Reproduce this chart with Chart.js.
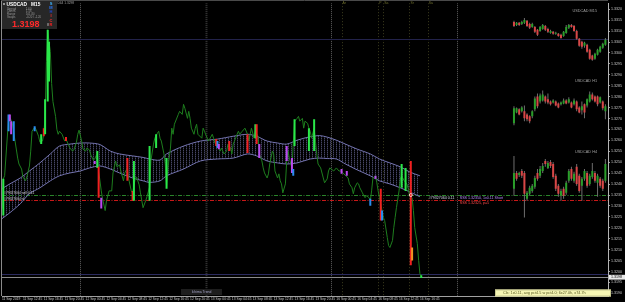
<!DOCTYPE html>
<html><head><meta charset="utf-8">
<script src="https://cdn.jsdelivr.net/npm/chart.js@4/dist/chart.umd.min.js"></script>
<style>html,body{margin:0;padding:0;background:#000;overflow:hidden}canvas{display:block}</style>
</head><body>
<canvas id="c" width="625" height="302"></canvas>
<script>
// ---------- DATA ----------
const xTickBars = [0,16,32,48,64,80,96,112,128,144,160,176,192,208,224,240,256,272,288,304,320];
const xLabels = ['11 Sep 2019','11 Sep 12:45','11 Sep 16:45','11 Sep 20:45','12 Sep 00:45','12 Sep 04:45','12 Sep 08:45','12 Sep 12:45','12 Sep 16:45','12 Sep 20:45','13 Sep 00:45','13 Sep 04:45','13 Sep 08:45','13 Sep 12:45','13 Sep 16:45','13 Sep 20:45','16 Sep 00:45','16 Sep 04:45','16 Sep 08:45','16 Sep 12:45','16 Sep 16:45'];
const yTicks = [1.3320,1.3315,1.3310,1.3305,1.3300,1.3295,1.3290,1.3285,1.3280,1.3275,1.3270,1.3265,1.3260,1.3255,1.3250,1.3245,1.3240,1.3235,1.3230,1.3225,1.3220,1.3215,1.3210,1.3205,1.3200,1.3195,1.3190];

const priceBars = [0,1,2,5,6,8,10,12,13,15,16,18,19,21,22,23,25,26,28,29,31,32,33,34,35,36,37,38,39,41,42,43,44,46,48,49,51,52,54,55,57,58,59,61,62,64,65,67,68,70,71,73,74,76,77,79,80,82,84,85,87,88,90,91,93,94,96,97,99,100,102,103,105,106,108,110,111,113,114,116,117,119,120,121,122,124,125,126,127,129,130,131,132,135,136,138,139,140,142,143,144,145,147,148,149,150,153,154,155,158,159,161,162,163,165,167,168,170,172,173,175,176,177,178,180,181,182,184,186,188,189,190,191,193,194,196,197,199,200,201,203,204,205,207,208,209,211,212,213,214,215,217,218,219,220,222,223,224,226,227,228,230,231,232,234,235,236,237,239,240,241,242,244,246,247,249,250,251,254,256,258,259,261,265,266,268,269,270,272,273,274,276,277,278,279,281,282,283,284,286,287,288,289,291,292,293,295,296,297,299,300,301,302,304,305,306,308,310,311,312,314,315,316,318,319,320,321];
const priceClose = [1.32288,1.32424,1.32438,1.32697,1.32706,1.32678,1.32597,1.32519,1.32492,1.32469,1.32433,1.32415,1.32433,1.32483,1.32551,1.32642,1.32660,1.32651,1.32619,1.32592,1.32597,1.32628,1.32710,1.32960,1.33106,1.33051,1.33006,1.32860,1.32778,1.32710,1.32651,1.32628,1.32642,1.32628,1.32597,1.32606,1.32578,1.32565,1.32551,1.32556,1.32592,1.32628,1.32647,1.32597,1.32560,1.32551,1.32565,1.32556,1.32533,1.32510,1.32515,1.32542,1.32460,1.32369,1.32333,1.32279,1.32324,1.32369,1.32369,1.32451,1.32506,1.32479,1.32488,1.32460,1.32415,1.32451,1.32474,1.32424,1.32369,1.32360,1.32424,1.32433,1.32397,1.32360,1.32292,1.32324,1.32342,1.32388,1.32506,1.32583,1.32610,1.32633,1.32642,1.32610,1.32597,1.32538,1.32492,1.32388,1.32474,1.32565,1.32656,1.32628,1.32674,1.32719,1.32733,1.32719,1.32765,1.32747,1.32701,1.32733,1.32701,1.32656,1.32628,1.32656,1.32674,1.32628,1.32610,1.32656,1.32642,1.32597,1.32606,1.32628,1.32610,1.32588,1.32574,1.32551,1.32565,1.32538,1.32551,1.32583,1.32565,1.32538,1.32583,1.32597,1.32628,1.32642,1.32628,1.32642,1.32656,1.32628,1.32597,1.32628,1.32656,1.32610,1.32642,1.32619,1.32538,1.32506,1.32474,1.32451,1.32428,1.32447,1.32492,1.32551,1.32538,1.32460,1.32428,1.32447,1.32415,1.32401,1.32360,1.32401,1.32506,1.32551,1.32519,1.32474,1.32583,1.32688,1.32701,1.32710,1.32688,1.32701,1.32656,1.32688,1.32678,1.32656,1.32642,1.32610,1.32656,1.32597,1.32538,1.32492,1.32474,1.32428,1.32406,1.32424,1.32460,1.32474,1.32460,1.32474,1.32460,1.32460,1.32451,1.32428,1.32401,1.32383,1.32356,1.32383,1.32406,1.32401,1.32383,1.32360,1.32347,1.32338,1.32347,1.32338,1.32324,1.32369,1.32428,1.32438,1.32406,1.32369,1.32338,1.32279,1.32247,1.32233,1.32156,1.32119,1.32110,1.32142,1.32201,1.32247,1.32292,1.32369,1.32424,1.32438,1.32415,1.32401,1.32379,1.32347,1.32338,1.32279,1.32201,1.32128,1.32051,1.31990,1.31980];

const bandBars = [0,6,14,21,29,37,44,52,60,67,75,83,90,100,108,113,121,126,139,152,165,177,188,195,203,211,218,226,236,243,249,256,263,272,282,289,297,305,312,320];
const bandUpper = [1.32379,1.32401,1.32428,1.32460,1.32497,1.32538,1.32574,1.32583,1.32588,1.32588,1.32581,1.32551,1.32538,1.32529,1.32522,1.32515,1.32510,1.32538,1.32574,1.32597,1.32606,1.32619,1.32628,1.32619,1.32597,1.32588,1.32583,1.32601,1.32617,1.32622,1.32615,1.32601,1.32583,1.32560,1.32538,1.32515,1.32497,1.32479,1.32456,1.32438];
const bandLower = [1.32242,1.32269,1.32310,1.32356,1.32383,1.32415,1.32438,1.32451,1.32460,1.32474,1.32483,1.32469,1.32451,1.32428,1.32415,1.32408,1.32415,1.32438,1.32469,1.32506,1.32515,1.32519,1.32538,1.32529,1.32506,1.32497,1.32492,1.32497,1.32515,1.32519,1.32517,1.32515,1.32492,1.32465,1.32438,1.32415,1.32401,1.32383,1.32365,1.32342];

const sigBars = [1,5,6,7,9,25,30,32,33,35,36,49,71,73,74,76,96,100,101,113,118,126,164,165,166,174,188,194,195,197,218,222,223,224,235,239,260,264,282,286,290,291,306,309,313,314,321];
const sigLow  = [1.32256,1.32642,1.32688,1.32628,1.32597,1.32642,1.32583,1.32619,1.32628,1.32778,1.32869,1.32597,1.32492,1.32474,1.32338,1.32288,1.32415,1.32324,1.32324,1.32324,1.32565,1.32379,1.32574,1.32565,1.32560,1.32551,1.32542,1.32610,1.32583,1.32519,1.32506,1.32451,1.32438,1.32574,1.32551,1.32551,1.32447,1.32438,1.32301,1.32424,1.32233,1.32233,1.32383,1.32369,1.32029,1.32051,1.31970];
const sigHigh = [1.32424,1.32719,1.32719,1.32688,1.32688,1.32665,1.32628,1.32656,1.32788,1.33106,1.33051,1.32615,1.32506,1.32551,1.32479,1.32338,1.32519,1.32369,1.32506,1.32574,1.32628,1.32519,1.32606,1.32597,1.32583,1.32597,1.32628,1.32674,1.32674,1.32583,1.32574,1.32519,1.32469,1.32697,1.32656,1.32697,1.32469,1.32460,1.32333,1.32438,1.32379,1.32279,1.32492,1.32474,1.32506,1.32110,1.31983];
const sigType = ['G','B','M','M','B','B','G','R','G','G','G','R','M','G','R','M','R','R','G','G','G','G','R','B','M','R','R','G','R','M','M','M','B','G','G','G','M','M','B','M','R','B','G','G','R','O','G'];

const candleBars = [392,394,396,398,400,402,404,406,408,410,412,414,416,418,420,422,424,426,428,430,432,434,436,438,440,442,444,446,448,450,452,454,456,458,460,462];
const m15Open  = [1.33142,1.33128,1.33138,1.33133,1.33138,1.33147,1.33133,1.33119,1.33119,1.33106,1.33101,1.33110,1.33124,1.33110,1.33092,1.33097,1.33088,1.33088,1.33083,1.33078,1.33092,1.33115,1.33128,1.33124,1.33101,1.33065,1.33051,1.33033,1.33038,1.33015,1.32988,1.32974,1.32992,1.33006,1.33024,1.33038];
const m15Close = [1.33124,1.33138,1.33128,1.33142,1.33151,1.33124,1.33115,1.33133,1.33097,1.33083,1.33119,1.33128,1.33106,1.33097,1.33101,1.33088,1.33092,1.33078,1.33069,1.33097,1.33119,1.33128,1.33119,1.33101,1.33065,1.33033,1.33028,1.33047,1.33006,1.32974,1.32969,1.32997,1.33015,1.33028,1.33042,1.33060];
const m15High  = [1.33147,1.33142,1.33142,1.33147,1.33160,1.33151,1.33138,1.33138,1.33124,1.33110,1.33124,1.33133,1.33128,1.33115,1.33106,1.33101,1.33097,1.33092,1.33088,1.33101,1.33128,1.33133,1.33133,1.33128,1.33106,1.33069,1.33056,1.33051,1.33042,1.33019,1.32992,1.33001,1.33019,1.33033,1.33047,1.33069];
const m15Low   = [1.33119,1.33124,1.33124,1.33128,1.33133,1.33119,1.33110,1.33115,1.33092,1.33078,1.33097,1.33106,1.33101,1.33092,1.33088,1.33083,1.33083,1.33074,1.33065,1.33074,1.33088,1.33110,1.33115,1.33097,1.33060,1.33028,1.33019,1.33024,1.33001,1.32969,1.32965,1.32969,1.32988,1.33001,1.33019,1.33033];
const h1Open  = [1.32678,1.32728,1.32742,1.32733,1.32733,1.32719,1.32710,1.32710,1.32742,1.32801,1.32778,1.32783,1.32801,1.32788,1.32778,1.32774,1.32778,1.32769,1.32765,1.32769,1.32783,1.32774,1.32774,1.32765,1.32778,1.32751,1.32738,1.32765,1.32760,1.32778,1.32810,1.32801,1.32801,1.32774,1.32778,1.32733];
const h1Close = [1.32747,1.32747,1.32719,1.32751,1.32701,1.32697,1.32688,1.32733,1.32792,1.32756,1.32806,1.32810,1.32778,1.32774,1.32765,1.32783,1.32760,1.32751,1.32774,1.32783,1.32769,1.32788,1.32751,1.32783,1.32742,1.32728,1.32756,1.32728,1.32788,1.32810,1.32788,1.32778,1.32765,1.32797,1.32747,1.32756];
const h1High  = [1.32756,1.32751,1.32747,1.32756,1.32760,1.32724,1.32715,1.32738,1.32801,1.32815,1.32815,1.32828,1.32806,1.32815,1.32783,1.32788,1.32783,1.32774,1.32778,1.32792,1.32788,1.32797,1.32778,1.32792,1.32783,1.32756,1.32778,1.32769,1.32792,1.32824,1.32819,1.32806,1.32806,1.32801,1.32783,1.32765];
const h1Low   = [1.32669,1.32724,1.32715,1.32728,1.32688,1.32688,1.32678,1.32701,1.32733,1.32747,1.32769,1.32778,1.32769,1.32765,1.32760,1.32769,1.32756,1.32747,1.32760,1.32765,1.32765,1.32769,1.32747,1.32760,1.32733,1.32724,1.32719,1.32701,1.32751,1.32774,1.32783,1.32774,1.32756,1.32769,1.32738,1.32697];
const h4Open  = [1.32379,1.32451,1.32442,1.32460,1.32451,1.32333,1.32356,1.32369,1.32388,1.32451,1.32438,1.32460,1.32506,1.32474,1.32501,1.32492,1.32438,1.32392,1.32347,1.32379,1.32360,1.32415,1.32469,1.32415,1.32479,1.32438,1.32392,1.32424,1.32451,1.32401,1.32433,1.32451,1.32406,1.32424,1.32415,1.32415];
const h4Close = [1.32451,1.32424,1.32451,1.32438,1.32356,1.32360,1.32383,1.32392,1.32428,1.32424,1.32469,1.32483,1.32492,1.32497,1.32483,1.32433,1.32379,1.32356,1.32369,1.32347,1.32406,1.32460,1.32424,1.32447,1.32401,1.32369,1.32424,1.32460,1.32392,1.32438,1.32460,1.32415,1.32438,1.32392,1.32379,1.32492];
const h4High  = [1.32529,1.32460,1.32456,1.32469,1.32460,1.32369,1.32392,1.32401,1.32438,1.32469,1.32483,1.32497,1.32515,1.32506,1.32510,1.32501,1.32447,1.32401,1.32379,1.32388,1.32415,1.32469,1.32479,1.32456,1.32492,1.32447,1.32433,1.32469,1.32460,1.32447,1.32497,1.32460,1.32447,1.32433,1.32424,1.32515];
const h4Low   = [1.32347,1.32415,1.32433,1.32428,1.32247,1.32324,1.32347,1.32360,1.32379,1.32415,1.32428,1.32451,1.32479,1.32469,1.32474,1.32424,1.32369,1.32342,1.32324,1.32333,1.32351,1.32406,1.32415,1.32406,1.32392,1.32360,1.32324,1.32415,1.32383,1.32392,1.32424,1.32406,1.32342,1.32383,1.32369,1.32406];

const highLine = 1.33065, askLine = 1.31988, bidLine = 1.31974;
const openLine = 1.32350, slLine = 1.32325;
const daySepBars = [60,156,252,348];
const eventBars = [260,288,292,312,326];
const eventLabels = ['Ar','P','Sa','Sr','Sa'];
const tradeBar = 313, tradePrice = 1.32350;
const currentPrice = '1.3198';

// ---------- STYLE ----------
const SIGCOL = {G:'#2ae84a', R:'#f02020', B:'#2a8cf0', M:'#bb48f0', O:'#f09422'};
const BULL = '#2a9e2a', BEAR = '#d84646';
const FONT = 'Liberation Sans';

const cv = document.getElementById('c');
const ctx = cv.getContext('2d');
const pc = document.createElement('canvas'); pc.width = 3; pc.height = 2;
const pcx = pc.getContext('2d');
pcx.fillStyle = 'rgba(82,82,118,0.85)'; pcx.fillRect(0,0,1,1);
pcx.fillStyle = 'rgba(42,42,64,0.7)'; pcx.fillRect(0,1,1,1);
const hatch = ctx.createPattern(pc, 'repeat');

const zip = (xs, ys) => xs.map((x, i) => ({x, y: ys[i]}));
const wickData = [], bodyData = [], bodyCol = [];
[[m15Open,m15High,m15Low,m15Close],[h1Open,h1High,h1Low,h1Close],[h4Open,h4High,h4Low,h4Close]].forEach(([o,h,l,c]) => {
  candleBars.forEach((b, i) => {
    wickData.push({x: b, y: [l[i], h[i]]});
    bodyData.push({x: b, y: [o[i], c[i]]});
    bodyCol.push(c[i] >= o[i] ? BULL : BEAR);
  });
});

function hline(c, ca, y, color, dash, w) {
  c.save(); c.strokeStyle = color; c.lineWidth = w || 1; c.setLineDash(dash || []);
  c.beginPath(); c.moveTo(ca.left, Math.round(y) + 0.5); c.lineTo(ca.right, Math.round(y) + 0.5); c.stroke(); c.restore();
}
function vline(c, ca, x, color, dash, w) {
  c.save(); c.strokeStyle = color; c.lineWidth = w || 1; c.setLineDash(dash || []);
  c.beginPath(); c.moveTo(Math.round(x) + 0.5, ca.top); c.lineTo(Math.round(x) + 0.5, ca.bottom); c.stroke(); c.restore();
}
function txt(c, s, x, y, color, size, bold, align) {
  c.font = (bold ? 'bold ' : '') + size + 'px "' + FONT + '"';
  c.fillStyle = color; c.textAlign = align || 'left'; c.textBaseline = 'middle';
  c.fillText(s, x, y);
}

const mt4 = {
  id: 'mt4',
  beforeDraw(chart) {
    const c = chart.ctx; c.save(); c.fillStyle = '#000'; c.fillRect(0, 0, chart.width, chart.height); c.restore();
  },
  beforeDatasetsDraw(chart) {
    const c = chart.ctx, ca = chart.chartArea, xs = chart.scales.x, ys = chart.scales.y;
    c.save(); c.beginPath(); c.rect(ca.left, ca.top, ca.right - ca.left, ca.bottom - ca.top); c.clip();
    daySepBars.forEach((b, i) => vline(c, ca, xs.getPixelForValue(b), i === 1 ? '#383838' : '#5e5e5e', [1, 1], i === 1 ? 2 : 1));
    eventBars.forEach(b => vline(c, ca, xs.getPixelForValue(b), '#3c3c1e', [1, 2]));
    hline(c, ca, ys.getPixelForValue(highLine), '#22224a');
    hline(c, ca, ys.getPixelForValue(askLine), '#2a2a5e');
    hline(c, ca, ys.getPixelForValue(bidLine), '#8a8a8a');
    hline(c, ca, ys.getPixelForValue(openLine), '#2a842a', [4, 1.5, 1, 1.5]);
    hline(c, ca, ys.getPixelForValue(slLine), '#c81818', [4, 1.5, 1, 1.5]);
    c.restore();
  },
  afterDraw(chart) {
    const c = chart.ctx, ca = chart.chartArea, xs = chart.scales.x, ys = chart.scales.y;
    c.save();
    c.strokeStyle = '#8a8a8a'; c.lineWidth = 1;
    c.beginPath(); c.moveTo(1.5, 0); c.lineTo(1.5, ca.bottom); c.stroke();
    c.strokeStyle = '#4a4a4a'; c.beginPath(); c.moveTo(1, 0.5); c.lineTo(ca.right, 0.5); c.stroke();
    c.strokeStyle = '#ffc0c0'; c.beginPath();
    c.arc(xs.getPixelForValue(tradeBar), ys.getPixelForValue(tradePrice), 1.5, 0, Math.PI * 2); c.stroke();
    eventBars.forEach((b, i) => txt(c, eventLabels[i], xs.getPixelForValue(b) + 1, 3.5, '#70702e', 3.4));
    c.fillStyle = '#272727'; c.fillRect(2, 1, 55, 28);
    c.fillStyle = '#fff'; c.fillRect(3, 3.5, 2, 1);
    txt(c, 'USDCAD', 6.5, 4.6, '#ffffff', 4.8, true);
    txt(c, 'M15', 31, 4.6, '#ffffff', 4.8, true);
    const rl = ['Spread', 'Comm.', 'Range', 'Swaps'], rv = ['1.60', '1.56', '101.80', '-0.20 / -1.20'];
    rl.forEach((s, i) => { txt(c, s, 7, 9 + i * 2.7, '#9a9a9a', 2.8); txt(c, rv[i], 26, 9 + i * 2.7, '#9a9a9a', 2.8); });
    txt(c, currentPrice, 12, 24.2, '#ff2a2a', 9, true);
    txt(c, '8', 47, 25, '#c8c8c8', 3.6);
    const L = ['S', 'M', 'H', 'I', 'C', 'R'], LC = ['#3cb4ff', '#2878ff', '#1e46d2', '#ff3030', '#ff3030', '#ff2020'];
    L.forEach((s, i) => txt(c, s, 51, 4 + i * 4.1, LC[i], 4, true, 'center'));
    txt(c, 'D44 1.3298', 57.5, 3.5, '#a0a0a0', 3.2);
    txt(c, '#79327064 sell 0.11', 4, 193.3, '#d0d0d0', 3.4);
    txt(c, '#79327064 sl', 4, 198.6, '#d0d0d0', 3.4);
    const ox = xs.getPixelForValue(tradeBar) + 18;
    txt(c, '#79327064 0.11', ox, 197.5, '#d8d8f0', 3.6);
    txt(c, 'SSS 1.32350, 1x0.11 Short', ox + 31, 197.5, '#b888ff', 3.6);
    txt(c, 'SSS 1.32325, p=5', ox + 31, 202.7, '#ff4a4a', 3.6);
    txt(c, 'USDCAD M15', 597, 11, '#a0a0a0', 3.8, false, 'right');
    txt(c, 'USDCAD H1', 597, 81, '#a0a0a0', 3.8, false, 'right');
    txt(c, 'USDCAD H4', 597, 151.5, '#a0a0a0', 3.8, false, 'right');
    c.fillStyle = '#1e1e1e'; c.fillRect(181, 289, 41, 6);
    txt(c, 'Ichima Trend', 201.5, 292.2, '#a8a8cc', 3.4, false, 'center');
    c.fillStyle = '#f6f6b4'; c.fillRect(495, 289.5, 116, 7);
    c.strokeStyle = '#c8c890'; c.strokeRect(495.5, 290, 115, 6);
    txt(c, 'Cls: 1x0.11, avg pct4.5 w pct4.0; 6x27.0h, x74.7h', 503, 293.2, '#5a5a22', 3.8);
    const py = ys.getPixelForValue(bidLine);
    c.fillStyle = '#e8e8e8'; c.fillRect(609, py - 2.4, 16, 4.8);
    txt(c, currentPrice, 611, py + 0.1, '#000', 3.6);
    c.restore();
  }
};

new Chart(cv, {
  data: {
    datasets: [
      { type: 'bar', data: sigBars.map((b, i) => ({x: b, y: [sigLow[i], sigHigh[i]]})), backgroundColor: sigType.map(t => SIGCOL[t]), barThickness: 2, grouped: false, borderWidth: 0, inflateAmount: 0, order: 0 },
      { type: 'line', data: zip(priceBars, priceClose), borderColor: '#1e7e1e', borderWidth: 1, pointRadius: 0, tension: 0, fill: false, order: 1 },
      { type: 'line', data: zip(bandBars, bandUpper), borderColor: '#7474b0', borderWidth: 1, pointRadius: 0, tension: 0.3, fill: '+1', backgroundColor: hatch, order: 3 },
      { type: 'line', data: zip(bandBars, bandLower), borderColor: '#7474b0', borderWidth: 1, pointRadius: 0, tension: 0.3, fill: false, order: 2 },
      { type: 'bar', data: wickData, backgroundColor: '#6e6e6e', barThickness: 1, grouped: false, borderWidth: 0, inflateAmount: 0, order: 6 },
      { type: 'bar', data: bodyData, backgroundColor: bodyCol, barThickness: 2, grouped: false, borderWidth: 0, inflateAmount: 0, minBarLength: 1, order: 5 }
    ]
  },
  options: {
    responsive: false, animation: false, devicePixelRatio: 1, events: [],
    layout: { padding: { left: 2, top: 1, right: 0, bottom: 0 } },
    plugins: { legend: { display: false }, tooltip: { enabled: false } },
    scales: {
      x: {
        type: 'linear', min: 0, max: 464, offset: false,
        grid: { drawOnChartArea: false, drawTicks: true, tickLength: 1, color: '#a0a0a0' },
        border: { color: '#a0a0a0' },
        ticks: { autoSkip: false, maxRotation: 0, minRotation: 0, align: 'start', padding: 0.5, color: '#c8c8c8', font: { family: FONT, size: 3.3 },
          callback: (v, i) => xLabels[i] },
        afterBuildTicks: s => { s.ticks = xTickBars.map(v => ({value: v})); },
        afterFit: s => { s.height = 6; }
      },
      y: {
        type: 'linear', position: 'right', min: 1.31888, max: 1.33228,
        grid: { drawOnChartArea: false, tickLength: 2, color: '#a0a0a0' },
        border: { color: '#b4b4b4' },
        ticks: { autoSkip: false, padding: 1, color: '#c8c8c8', font: { family: FONT, size: 3.6 }, callback: v => v.toFixed(4) },
        afterBuildTicks: s => { s.ticks = yTicks.map(v => ({value: v})); },
        afterFit: s => { s.width = 17; }
      }
    }
  },
  plugins: [mt4]
});
</script>
</body></html>
